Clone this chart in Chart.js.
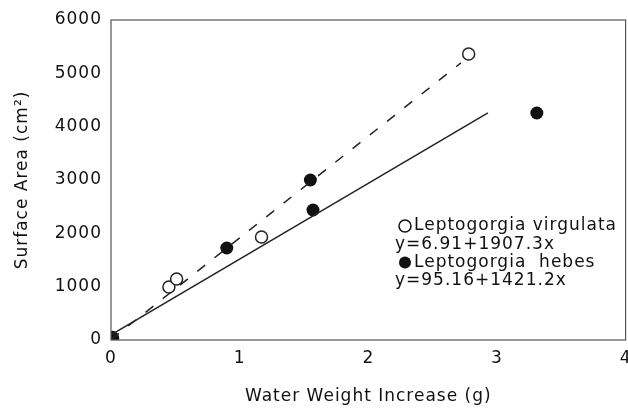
<!DOCTYPE html>
<html>
<head>
<meta charset="utf-8">
<script src="https://cdn.jsdelivr.net/npm/chart.js@4"></script>
<style>
  html,body{margin:0;padding:0;background:#fff;overflow:hidden;}
  #wrap{width:628px;height:411px;overflow:hidden;}
</style>
</head>
<body>
<div id="wrap"><canvas id="c" width="634" height="411"></canvas></div>
<script>
// ==========================
// DATA
// ==========================
const virgX = [0.45, 0.51, 1.17, 2.78];
const virgY = [994, 1144, 1931, 5363];

const hebesX = [0, 0.01, 0.90, 1.55, 1.57, 3.31];
const hebesY = [0, 40, 1725, 3000, 2438, 4256];

// fitted lines, end points as drawn
const virgFitX = [0, 2.72];
const virgFitY = [7, 5195];
const hebesFitX = [0, 2.93];
const hebesFitY = [95, 4259];

const xTicks = [0, 1, 2, 3, 4];
const yTicks = [0, 1000, 2000, 3000, 4000, 5000, 6000];

const legendLines = [
  {marker:"open", text:"Leptogorgia virgulata"},
  {marker:null, text:"y=6.91+1907.3x"},
  {marker:"filled", text:"Leptogorgia  hebes"},
  {marker:null, text:"y=95.16+1421.2x"}
];

const FONT = "DejaVu Sans";
const FSIZE = 17;

function pts(xs, ys){
  return xs.map((x,i)=>({x:x, y:ys[i]}));
}

// ==========================
// PLUGIN: wide lettering, frame, legend text
// ==========================
const framePlugin = {
  id:"frame",
  beforeInit(chart){ chart.ctx.letterSpacing = "1px"; },
  beforeDraw(chart){ chart.ctx.letterSpacing = "1px"; },
  afterDraw(chart){
    const ctx = chart.ctx, a = chart.chartArea;
    ctx.save();
    ctx.strokeStyle = "#555";
    ctx.lineWidth = 1.2;
    ctx.strokeRect(a.left, a.top, a.right - a.left, a.bottom - a.top);

    // legend block
    ctx.font = FSIZE + "px " + FONT;
    ctx.fillStyle = "#111";
    ctx.textBaseline = "middle";
    let y0 = 226;
    legendLines.forEach((l,i)=>{
      const y = y0 + i*18.3;
      let tx = 395;
      if(l.marker){
        ctx.beginPath();
        ctx.arc(405, y, 6, 0, Math.PI*2);
        if(l.marker==="filled"){ ctx.fillStyle="#111"; ctx.fill(); }
        else { ctx.strokeStyle="#111"; ctx.lineWidth=1.5; ctx.stroke(); }
        tx = 414;
      }
      ctx.fillStyle = "#111";
      ctx.fillText(l.text, tx, y);
    });
    ctx.restore();
  }
};

// ==========================
// CHART
// ==========================
new Chart(document.getElementById("c"), {
  type:"scatter",
  data:{
    datasets:[
      {
        type:"line",
        data:pts(virgFitX, virgFitY),
        borderColor:"#222",
        borderWidth:1.5,
        borderDash:[10,12],
        pointRadius:0,
        fill:false
      },
      {
        type:"line",
        data:pts(hebesFitX, hebesFitY),
        borderColor:"#222",
        borderWidth:1.5,
        pointRadius:0,
        fill:false
      },
      {
        label:"Leptogorgia virgulata",
        data:pts(virgX, virgY),
        pointRadius:6,
        pointBorderWidth:1.5,
        pointBorderColor:"#222",
        pointBackgroundColor:"#fff"
      },
      {
        label:"Leptogorgia hebes",
        data:pts(hebesX, hebesY),
        pointRadius:[8,7,6.5,6.5,6.5,6.5],
        pointBorderWidth:0,
        pointBackgroundColor:"#111"
      }
    ]
  },
  options:{
    responsive:false,
    animation:false,
    layout:{padding:{top:20, right:2, left:0, bottom:0}},
    plugins:{legend:{display:false}, tooltip:{enabled:false}},
    scales:{
      x:{
        type:"linear",
        min:0, max:4,
        afterBuildTicks(s){ s.ticks = xTicks.map(v=>({value:v})); },
        afterFit(s){ s.height = 71; },
        grid:{display:false, drawTicks:true, tickLength:5},
        border:{display:false},
        ticks:{color:"#111", font:{family:FONT, size:FSIZE}, padding:3,
               callback:v=>String(v)},
        title:{display:true, text:"Water Weight Increase (g)", color:"#111",
               font:{family:FONT, size:FSIZE}, padding:{top:20}}
      },
      y:{
        type:"linear",
        min:0, max:6000,
        afterBuildTicks(s){ s.ticks = yTicks.map(v=>({value:v})); },
        afterFit(s){ s.width = 111; },
        grid:{display:false, drawTicks:true, tickLength:6},
        border:{display:false},
        ticks:{color:"#111", font:{family:FONT, size:FSIZE}, padding:3,
               callback:v=>String(v)},
        title:{display:true, text:"Surface Area (cm\u00b2)", color:"#111",
               font:{family:FONT, size:FSIZE}, padding:{top:12, bottom:0}}
      }
    }
  },
  plugins:[framePlugin]
});
</script>
</body>
</html>
